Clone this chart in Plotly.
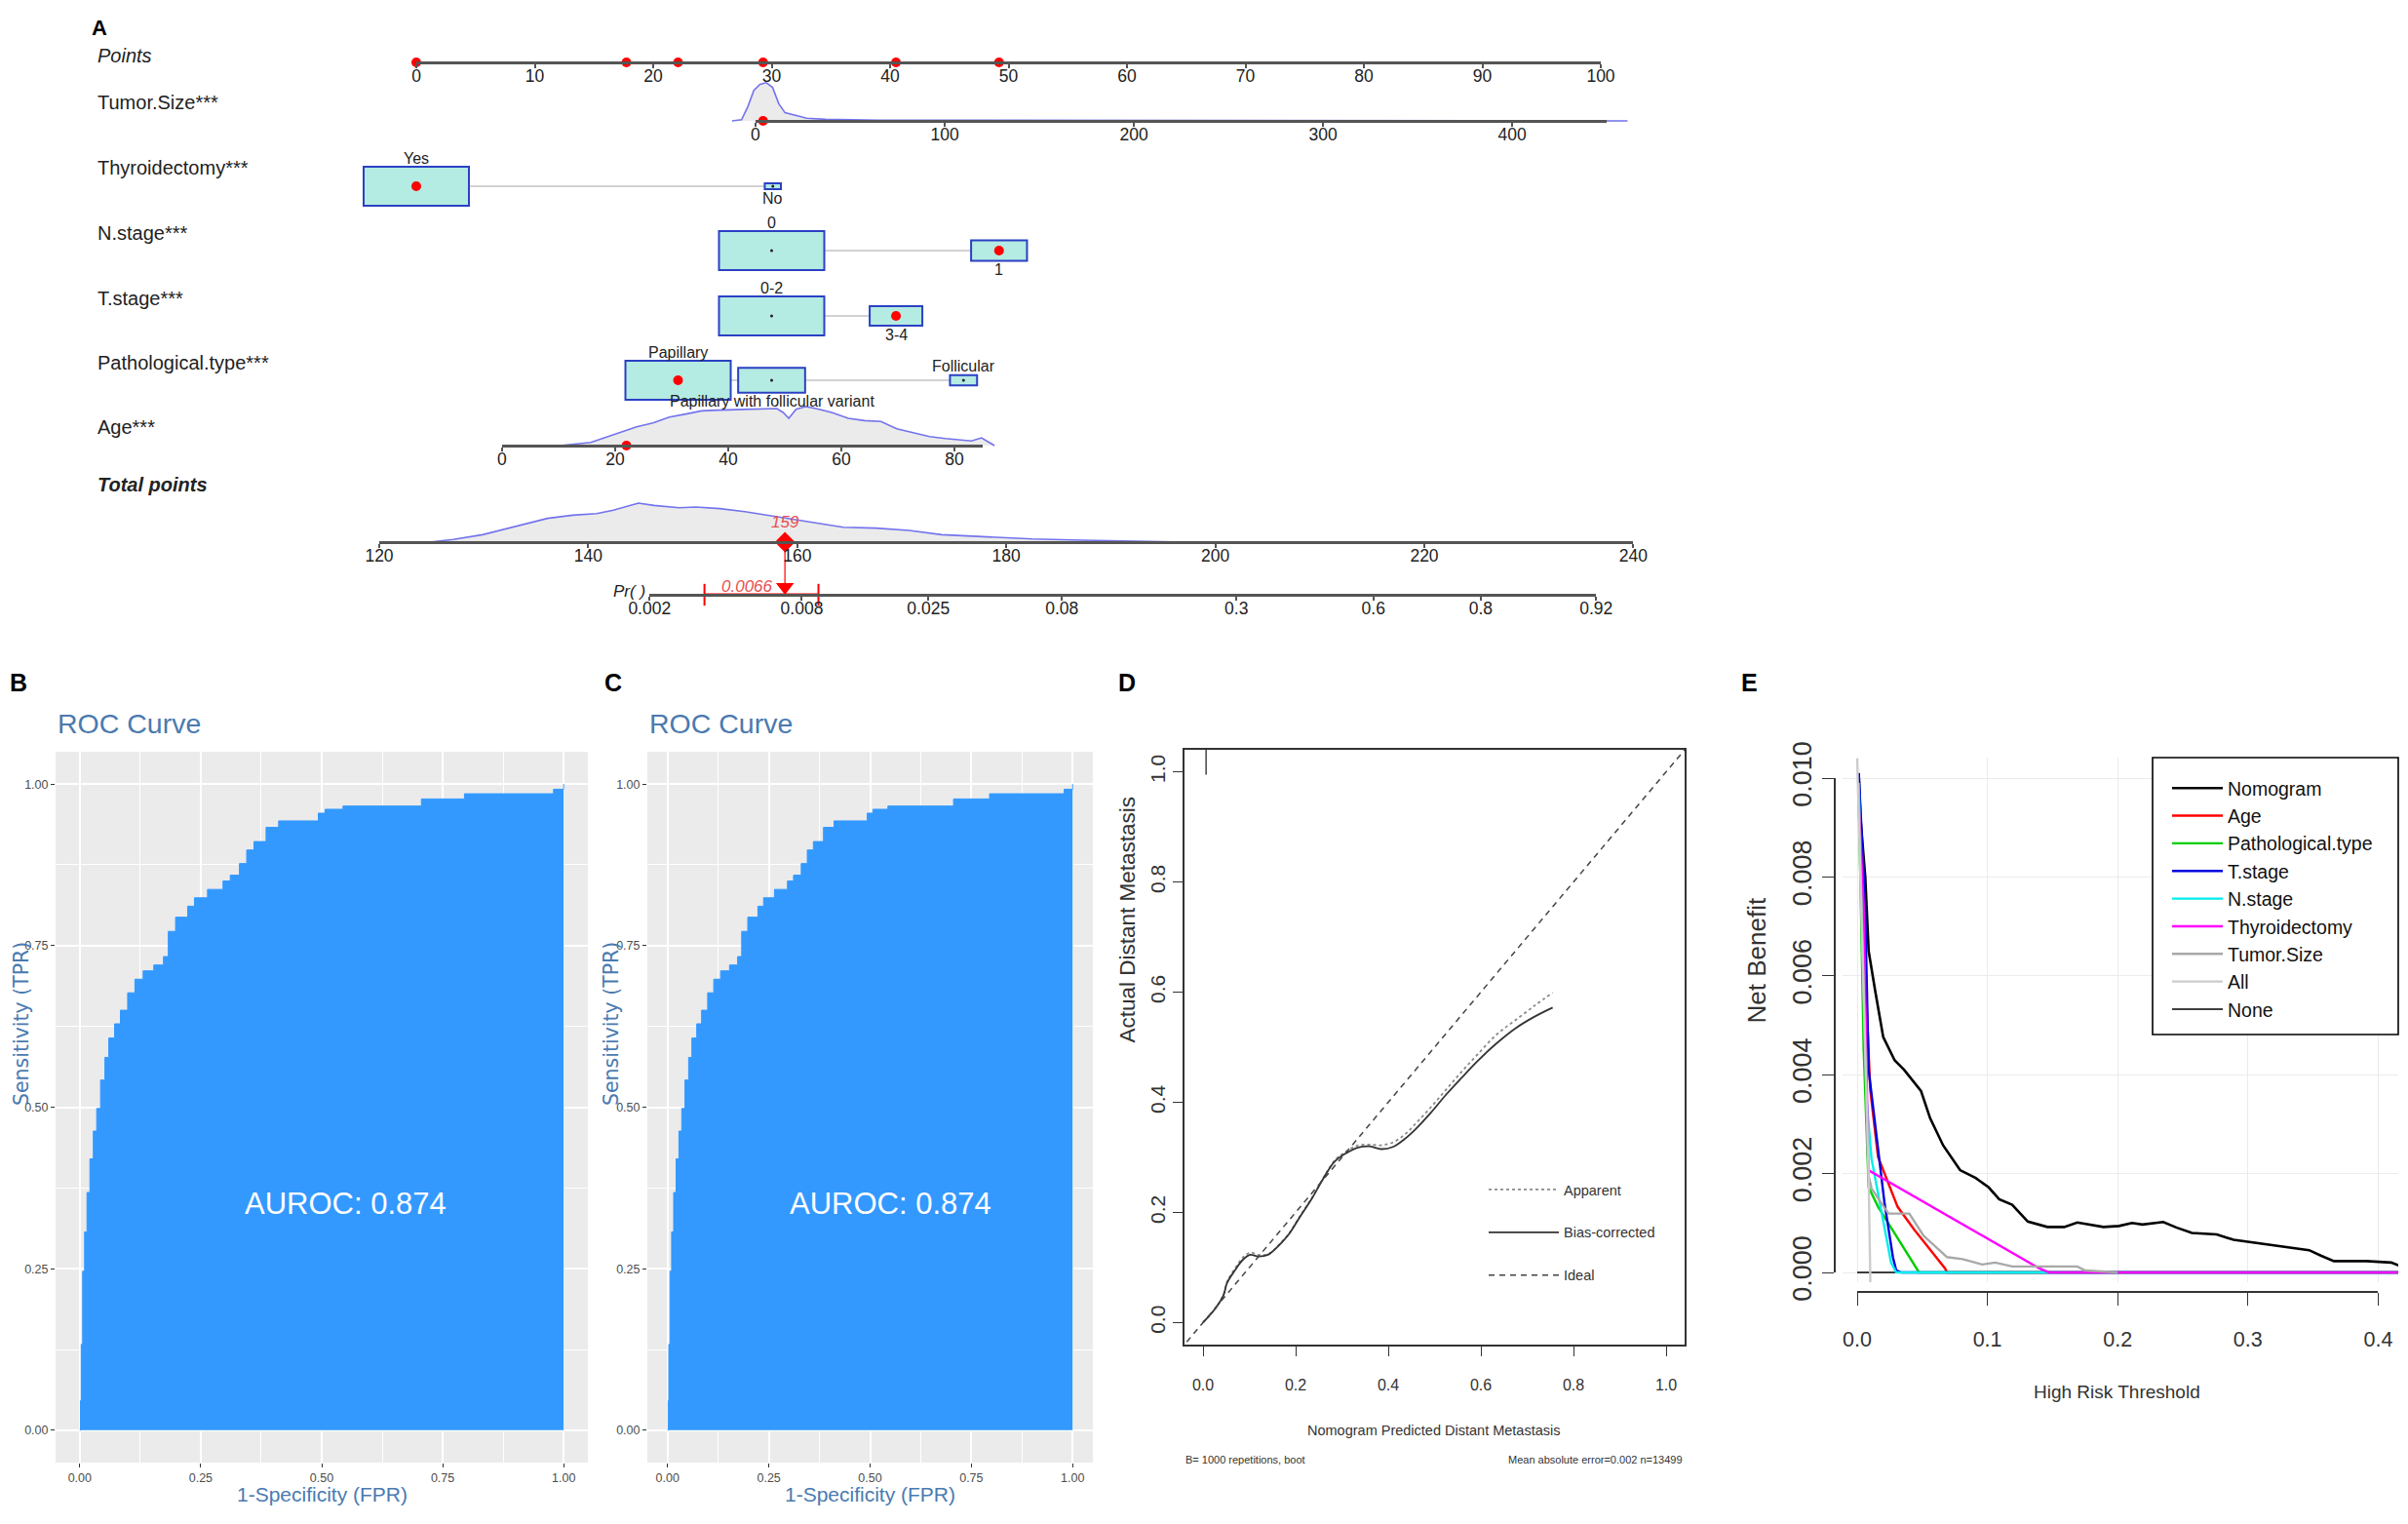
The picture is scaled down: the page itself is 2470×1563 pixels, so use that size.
import numpy as np
import plotly.graph_objects as go

W, H = 2470, 1563
OFF = 8                      # page margin around the figure
FW, FH = W - 2 * OFF, H - 2 * OFF
SANS = "Liberation Sans, Arial, sans-serif"
WIDE = "DejaVu Sans, Verdana, sans-serif"

# ---------------- A: nomogram data ----------------
points_ticks = list(range(0, 101, 10))

# continuous predictors: points = a + b * value
tumor_coef = (28.64, 0.1597)
age_coef = (7.24, 0.4774)
tumor_ticks = [0, 100, 200, 300, 400]
tumor_span = (0, 450)
age_ticks = [0, 20, 40, 60, 80]
age_span = (0, 85)

# kernel densities (relative height, peak = 1)
tumor_dens_x = [-12.4, -7.4, -4.1, -0.9, 2.4, 5.7, 9.0, 12.3, 15.6, 20.5, 27.1, 37.0, 53.4, 64.9, 461]
tumor_dens_y = [0, 0.03, 0.36, 0.78, 0.94, 0.98, 0.86, 0.44, 0.21, 0.15, 0.07, 0.04, 0.03, 0.02, 0]
age_dens_x = [10.2, 15.7, 18.1, 20.4, 23.8, 26.7, 29.6, 32.5, 35.3, 38.2, 41.1, 44.0, 46.8, 48.6,
              49.7, 50.7, 52.0, 53.7, 55.5, 58.3, 61.2, 64.1, 67.0, 69.8, 72.7, 75.6, 78.4, 81.3,
              83.0, 84.8, 85.9, 87.1]
age_dens_y = [0, 0.08, 0.2, 0.31, 0.48, 0.58, 0.73, 0.81, 0.89, 0.91, 0.92, 0.93, 0.93, 0.95,
              0.85, 0.7, 0.93, 1.0, 0.95, 0.85, 0.7, 0.64, 0.62, 0.43, 0.33, 0.23, 0.18, 0.14,
              0.12, 0.2, 0.1, 0]

# categorical predictors
thyroid_levels = ['Yes', 'No']
thyroid_points = [0.0, 30.1]
thyroid_share = [0.977, 0.023]
nstage_levels = ['0', '1']
nstage_points = [30.0, 49.2]
nstage_share = [0.78, 0.22]
tstage_levels = ['0-2', '3-4']
tstage_points = [30.0, 40.5]
tstage_share = [0.80, 0.20]
path_levels = ['Papillary', 'Papillary with follicular variant', 'Follicular']
path_points = [22.1, 30.0, 46.2]
path_share = [0.68, 0.275, 0.045]

# the example patient
pat_tumor = 4
pat_age = 22
pat_thyroid = 'Yes'
pat_nstage = '1'
pat_tstage = '3-4'
pat_path = 'Papillary'

total_ticks = list(range(120, 241, 20))
total_dens_x = [124.8, 127.1, 129.9, 133.0, 136.1, 138.5, 140.8, 142.4, 144.8, 146.3, 148.7, 150.3,
                152.6, 155.0, 158.1, 161.3, 164.4, 167.5, 170.7, 173.8, 177.0, 180.1, 182.5,
                187.2, 195.0, 197.4]
total_dens_y = [0, 0.07, 0.19, 0.4, 0.61, 0.69, 0.73, 0.82, 1.0, 0.94, 0.88, 0.9, 0.86, 0.78,
                0.65, 0.5, 0.38, 0.36, 0.3, 0.19, 0.15, 0.11, 0.08, 0.05, 0.02, 0]

lp_coef = (-20.15, 0.09555)     # logit(Pr) = a + b * total points
pr_ticks = [0.002, 0.008, 0.025, 0.08, 0.3, 0.6, 0.8, 0.92]
pr_labels = ['0.002', '0.008', '0.025', '0.08', '0.3', '0.6', '0.8', '0.92']
pred_label = '0.0066'
pred_ci = (0.0033, 0.0093)

# ---------------- B/C: ROC ----------------
roc_fpr = [0.0, 0.0015, 0.003, 0.006, 0.010, 0.015, 0.021, 0.028, 0.035, 0.043, 0.052, 0.060,
           0.072, 0.084, 0.099, 0.114, 0.131, 0.153, 0.173, 0.183, 0.198, 0.223, 0.237, 0.264,
           0.296, 0.311, 0.330, 0.345, 0.360, 0.385, 0.411, 0.493, 0.507, 0.544, 0.706, 0.795,
           0.979, 1.0]
roc_tpr = [0.0, 0.046, 0.133, 0.246, 0.307, 0.368, 0.42, 0.463, 0.498, 0.542, 0.577, 0.607,
           0.629, 0.65, 0.677, 0.698, 0.711, 0.72, 0.733, 0.772, 0.794, 0.811, 0.824, 0.837,
           0.85, 0.859, 0.877, 0.898, 0.911, 0.933, 0.943, 0.955, 0.961, 0.966, 0.977, 0.985,
           0.992, 1.0]
auroc = 0.874

# ---------------- D: calibration ----------------
cal_pred = [0.0, 0.027, 0.044, 0.052, 0.069, 0.086, 0.102, 0.119, 0.14, 0.16, 0.185, 0.21, 0.235,
            0.26, 0.285, 0.31, 0.335, 0.36, 0.385, 0.41, 0.435, 0.46, 0.493, 0.526, 0.559, 0.593,
            0.634, 0.676, 0.717, 0.755]
cal_bias = [0.0, 0.026, 0.049, 0.072, 0.095, 0.114, 0.123, 0.12, 0.123, 0.137, 0.16, 0.193, 0.225,
            0.262, 0.293, 0.308, 0.318, 0.32, 0.315, 0.319, 0.333, 0.352, 0.382, 0.415, 0.445,
            0.475, 0.507, 0.535, 0.556, 0.572]
cal_apparent = [0.0, 0.026, 0.05, 0.074, 0.098, 0.118, 0.127, 0.123, 0.124, 0.138, 0.161, 0.194,
                0.226, 0.263, 0.295, 0.311, 0.322, 0.323, 0.322, 0.327, 0.341, 0.362, 0.392,
                0.424, 0.456, 0.487, 0.523, 0.55, 0.576, 0.599]
ideal_line = [-0.05, 1.05]
pred_hist_x = [0.0066]
pred_hist_h = [0.045]

# ---------------- E: decision curves ----------------
nomo_x = [0.0012, 0.0025, 0.0062, 0.0088, 0.0138, 0.02, 0.0288, 0.036, 0.049, 0.056, 0.066, 0.079,
          0.091, 0.101, 0.109, 0.119, 0.131, 0.146, 0.159, 0.169, 0.189, 0.201, 0.211, 0.219,
          0.235, 0.245, 0.257, 0.276, 0.289, 0.308, 0.328, 0.347, 0.356, 0.366, 0.391, 0.41, 0.416]
nomo_y = [0.0101, 0.0092, 0.0080, 0.0065, 0.0057, 0.00476, 0.00429, 0.0041, 0.00367, 0.00312,
          0.00257, 0.00207, 0.00191, 0.00172, 0.00148, 0.00137, 0.00103, 0.00092, 0.00092,
          0.00101, 0.00092, 0.00094, 0.001, 0.00097, 0.00102, 0.00091, 0.0008, 0.00077, 0.00066,
          0.00059, 0.00051, 0.00045, 0.00034, 0.00023, 0.00023, 0.0002, 0.00014]
age_x = [0.0012, 0.006, 0.01, 0.016, 0.024, 0.031, 0.044, 0.056, 0.0675, 0.069, 0.416]
age_y = [0.0098, 0.0062, 0.0037, 0.00234, 0.0018, 0.00133, 0.00086, 0.00047, 0.00008, 0.0, 0.0]
path_x = [0.0012, 0.005, 0.0088, 0.016, 0.029, 0.039, 0.0475, 0.416]
path_y = [0.0097, 0.0045, 0.00172, 0.00133, 0.00078, 0.00035, 0.0, 0.0]
tst_x = [0.0012, 0.006, 0.0088, 0.0138, 0.021, 0.0275, 0.03, 0.034, 0.416]
tst_y = [0.0101, 0.0075, 0.0041, 0.003, 0.0014, 0.0003, 0.00004, 0.0, 0.0]
nst_x = [0.0012, 0.004, 0.0075, 0.011, 0.019, 0.026, 0.03, 0.416]
nst_y = [0.0099, 0.0068, 0.0034, 0.0023, 0.0012, 0.0002, 0.0, 0.0]
thy_x = [0.0012, 0.005, 0.0085, 0.14, 0.1475, 0.416]
thy_y = [0.0095, 0.0074, 0.00207, 0.00008, 0.0, 0.0]
tum_x = [0.0012, 0.0088, 0.011, 0.024, 0.04, 0.051, 0.059, 0.069, 0.081, 0.096, 0.106, 0.119,
         0.169, 0.175, 0.2]
tum_y = [0.0096, 0.00195, 0.0017, 0.00119, 0.00119, 0.00074, 0.00055, 0.00031, 0.00027, 0.00016,
         0.0002, 0.00012, 0.00012, 0.00004, 0.0]
all_x = [0.0, 0.0088, 0.0100, 0.0102]
all_y = [0.0104, 0.0019, 0.0, -0.0008]
none_x = [0.0, 0.416]
none_y = [0.0, 0.0]
dca_xticks = [0, 0.1, 0.2, 0.3, 0.4]
dca_yticks = [0, 0.002, 0.004, 0.006, 0.008, 0.010]


# ---------------- layout helpers (page pixels -> paper) ----------------
PTS_X0, PTS_DX = 427, 12.15      # pixel of 0 points, pixels per point
TOT_X0, TOT_DX = 389, 10.72      # pixel of 120 total points, pixels per total point
DENS_H = 40
BOX_W, BOX_H = 108, 40

row_y = dict(points=64, tumor=124, thyroid=191, nstage=257, tstage=324, path=390,
             age=457, total=556, pr=610)


def xp(px):
    return min(1.0, max(0.0, (px - OFF) / FW))


def ypos(py):
    return min(1.0, max(0.0, 1 - (py - OFF) / FH))


def pts_px(p):
    return PTS_X0 + PTS_DX * p


def tot_px(t):
    return TOT_X0 + TOT_DX * (t - 120)


def logit(p):
    return np.log(p / (1 - p))


def tot_of_p(p):
    return (logit(p) - lp_coef[0]) / lp_coef[1]


def tumor_to_pts(v):
    return tumor_coef[0] + tumor_coef[1] * v


def age_to_pts(v):
    return age_coef[0] + age_coef[1] * v


fig = go.Figure()
shapes = []
annots = []

# nomogram axis style
nomo_axis = dict(anchor='free', showline=True, linecolor='#555', linewidth=2.5, ticks='outside',
                 ticklen=4, tickwidth=1.5, tickcolor='#555', showgrid=False, zeroline=False,
                 ticklabelstandoff=-7,
                 tickfont=dict(family=SANS, size=17.5, color='#222'), fixedrange=True)

layout_axes = {}
layout_axes['yaxis'] = dict(domain=[0, 1], range=[FH + OFF, OFF], visible=False)
layout_axes['xaxis'] = dict(nomo_axis, domain=[xp(pts_px(0)), xp(pts_px(100))], range=[0, 100],
                            tickvals=points_ticks, position=ypos(row_y['points']))
layout_axes['xaxis2'] = dict(domain=[0, 1], range=[(OFF - PTS_X0) / PTS_DX, (OFF + FW - PTS_X0) / PTS_DX],
                             visible=False)
layout_axes['xaxis3'] = dict(nomo_axis, domain=[xp(pts_px(tumor_to_pts(tumor_span[0]))),
                                                xp(pts_px(tumor_to_pts(tumor_span[1])))],
                             range=list(tumor_span), tickvals=tumor_ticks,
                             position=ypos(row_y['tumor']))
layout_axes['xaxis4'] = dict(nomo_axis, domain=[xp(pts_px(age_to_pts(age_span[0]))),
                                                xp(pts_px(age_to_pts(age_span[1])))],
                             range=list(age_span), tickvals=age_ticks, position=ypos(row_y['age']))
layout_axes['xaxis5'] = dict(nomo_axis, domain=[xp(tot_px(120)), xp(tot_px(240))], range=[120, 240],
                             tickvals=total_ticks, position=ypos(row_y['total']))
pr_lo, pr_hi = tot_of_p(pr_ticks[0]), tot_of_p(pr_ticks[-1])
layout_axes['xaxis6'] = dict(nomo_axis, domain=[xp(tot_px(pr_lo)), xp(tot_px(pr_hi))],
                             range=[pr_lo, pr_hi], tickvals=[tot_of_p(p) for p in pr_ticks],
                             ticktext=pr_labels, position=ypos(row_y['pr']))


def density(xs, ys, axis, base, conv=None):
    xx = [conv(v) for v in xs] if conv else xs
    yy = [base - DENS_H * d for d in ys]
    fig.add_trace(go.Scatter(x=xx, y=yy, xaxis=axis, yaxis='y', mode='lines', fill='toself',
                             fillcolor='#ebebeb', line=dict(color='#7373ee', width=1.6),
                             hoverinfo='skip', showlegend=False))


density(tumor_dens_x, tumor_dens_y, 'x2', row_y['tumor'], tumor_to_pts)
density(age_dens_x, age_dens_y, 'x2', row_y['age'], age_to_pts)
density(total_dens_x, total_dens_y, 'x5', row_y['total'])

# categorical rows: connector, boxes, labels
cat_rows = [
    ('thyroid', thyroid_levels, thyroid_points, thyroid_share, pat_thyroid),
    ('nstage', nstage_levels, nstage_points, nstage_share, pat_nstage),
    ('tstage', tstage_levels, tstage_points, tstage_share, pat_tstage),
    ('path', path_levels, path_points, path_share, pat_path),
]
pat_points = {}
for key, levels, pts, share, chosen in cat_rows:
    yc = row_y[key]
    shapes.append(dict(type='line', xref='x2', yref='y', x0=min(pts), x1=max(pts), y0=yc, y1=yc,
                       line=dict(color='#d2d2d2', width=2), layer='below'))
    smax = max(share)
    for i, (lv, p, s) in enumerate(zip(levels, pts, share)):
        k = np.sqrt(s / smax)
        w, h = BOX_W * k, BOX_H * k
        shapes.append(dict(type='rect', xref='x2', yref='y', xsizemode='pixel', ysizemode='pixel',
                           xanchor=p, yanchor=yc, x0=-w / 2, x1=w / 2, y0=-h / 2, y1=h / 2,
                           fillcolor='#b4ebe2', line=dict(color='#2b41c4', width=2),
                           layer='below'))
        above = (i % 2 == 0)
        annots.append(dict(xref='x2', yref='y', x=p, y=yc, text=lv, showarrow=False,
                           yshift=(h / 2 + 9) * (1 if above else -1),
                           font=dict(family=SANS, size=16, color='#222')))
    others = [p for lv, p in zip(levels, pts) if lv != chosen]
    fig.add_trace(go.Scatter(x=others, y=[yc] * len(others), xaxis='x2', yaxis='y', mode='markers',
                             marker=dict(color='#222', size=3), hoverinfo='skip', showlegend=False))
    pat_points[key] = pts[levels.index(chosen)]
    fig.add_trace(go.Scatter(x=[pat_points[key]], y=[yc], xaxis='x2', yaxis='y', mode='markers',
                             marker=dict(color='red', size=10), hoverinfo='skip', showlegend=False))

pat_points['tumor'] = tumor_to_pts(pat_tumor)
pat_points['age'] = age_to_pts(pat_age)
pat_total = sum(pat_points.values())

red_dot = dict(color='red', size=10)
fig.add_trace(go.Scatter(x=list(pat_points.values()), y=[row_y['points']] * len(pat_points),
                         xaxis='x', yaxis='y', mode='markers', marker=red_dot, cliponaxis=False,
                         hoverinfo='skip', showlegend=False))
fig.add_trace(go.Scatter(x=[pat_tumor], y=[row_y['tumor']], xaxis='x3', yaxis='y', mode='markers',
                         marker=red_dot, cliponaxis=False, hoverinfo='skip', showlegend=False))
fig.add_trace(go.Scatter(x=[pat_age], y=[row_y['age']], xaxis='x4', yaxis='y', mode='markers',
                         marker=red_dot, cliponaxis=False, hoverinfo='skip', showlegend=False))

# total points marker, arrow to probability, confidence interval
fig.add_trace(go.Scatter(x=[pat_total, pat_total], y=[row_y['total'], row_y['pr'] - 8],
                         xaxis='x5', yaxis='y', mode='lines', line=dict(color='#ff3030', width=1.5),
                         hoverinfo='skip', showlegend=False))
fig.add_trace(go.Scatter(x=[pat_total], y=[row_y['pr'] - 8], xaxis='x5', yaxis='y', mode='markers',
                         marker=dict(symbol='triangle-down', color='red', size=16),
                         cliponaxis=False, hoverinfo='skip', showlegend=False))
fig.add_trace(go.Scatter(x=[pat_total], y=[row_y['total']], xaxis='x5', yaxis='y',
                         mode='markers+text', text=[f'{pat_total:.0f}'], textposition='top center',
                         textfont=dict(family=SANS, size=17, color='#e85050', style='italic'),
                         marker=dict(symbol='diamond', color='red', size=16), cliponaxis=False,
                         hoverinfo='skip', showlegend=False))
ci_tot = [tot_of_p(p) for p in pred_ci]
fig.add_trace(go.Scatter(x=ci_tot, y=[row_y['pr']] * 2, xaxis='x6', yaxis='y', mode='lines+markers',
                         line=dict(color='red', width=3),
                         marker=dict(symbol='line-ns', size=16, line=dict(color='red', width=2)),
                         cliponaxis=False, hoverinfo='skip', showlegend=False))
annots.append(dict(xref='x5', yref='y', x=pat_total, y=row_y['pr'] - 9, xanchor='right', xshift=-10,
                   text=pred_label, showarrow=False,
                   font=dict(family=SANS, size=17, color='#e85050', style='italic')))
annots.append(dict(xref='x6', yref='y', x=pr_lo, y=row_y['pr'] - 4, xanchor='right', xshift=-2,
                   text='Pr( )', showarrow=False,
                   font=dict(family=SANS, size=17, color='#222', style='italic')))

row_labels = [('Points', 57, 'normal', 'italic'), ('Tumor.Size***', 105, 'normal', 'normal'),
              ('Thyroidectomy***', 172, 'normal', 'normal'), ('N.stage***', 239, 'normal', 'normal'),
              ('T.stage***', 306, 'normal', 'normal'),
              ('Pathological.type***', 372, 'normal', 'normal'),
              ('Age***', 438, 'normal', 'normal'), ('Total points', 497, 'bold', 'italic')]
for txt, yy, wt, st in row_labels:
    annots.append(dict(xref='paper', yref='paper', x=xp(98), y=ypos(yy), xanchor='left',
                       yanchor='middle', text=txt, showarrow=False,
                       font=dict(family=SANS, size=20, color='#222', weight=wt, style=st)))

# ---------------- B / C : ROC ----------------
ROC_BLUE = '#3399ff'
TITLE_BLUE = '#4a7ab0'


def roc_panel(n, x0, x1, letter, lx, ylab_x):
    xa, ya = f'x{n}', f'y{n}'
    fig.add_trace(go.Scatter(x=roc_fpr, y=roc_tpr, xaxis=xa, yaxis=ya, mode='lines',
                             line=dict(color=ROC_BLUE, width=1, shape='hv'), fill='tozeroy',
                             fillcolor=ROC_BLUE, hoverinfo='skip', showlegend=False))
    ax = dict(range=[-0.05, 1.05], tickvals=[0, 0.25, 0.5, 0.75, 1.0], tickformat='.2f',
              showgrid=True, gridcolor='white', gridwidth=2.2, zeroline=False, showline=False,
              ticks='outside', ticklen=4, tickcolor='#333',
              tickfont=dict(family=SANS, size=12.5, color='#4d4d4d'),
              minor=dict(tickvals=[0.125, 0.375, 0.625, 0.875], showgrid=True, gridcolor='white',
                         gridwidth=1, ticks=''), fixedrange=True)
    layout_axes[f'xaxis{n}'] = dict(ax, domain=[xp(x0), xp(x1)], anchor=ya)
    layout_axes[f'yaxis{n}'] = dict(ax, domain=[ypos(1500), ypos(771)], anchor=xa)
    shapes.append(dict(type='rect', xref=f'{xa} domain', yref=f'{ya} domain', x0=0, x1=1, y0=0,
                       y1=1, fillcolor='#ebebeb', line=dict(width=0), layer='below'))
    annots.append(dict(xref='paper', yref='paper', x=xp(x0), y=ypos(742), xanchor='left',
                       text='ROC Curve', showarrow=False,
                       font=dict(family=SANS, size=28.5, color=TITLE_BLUE)))
    annots.append(dict(xref=xa, yref=ya, x=0.55, y=0.35, text=f'AUROC: {auroc}', showarrow=False,
                       font=dict(family=SANS, size=31, color='white')))
    annots.append(dict(xref='paper', yref='paper', x=xp((x0 + x1) / 2), y=ypos(1546),
                       xanchor='center', text='1-Specificity (FPR)', showarrow=False,
                       font=dict(family=SANS, size=21, color=TITLE_BLUE)))
    annots.append(dict(xref='paper', yref='paper', x=xp(ylab_x), y=ypos(1135), textangle=-90,
                       xanchor='center', borderpad=0, text='Sensitivity (TPR)', showarrow=False,
                       font=dict(family=WIDE, size=20.5, color=TITLE_BLUE)))
    annots.append(dict(xref='paper', yref='paper', x=xp(lx), y=ypos(700), xanchor='left',
                       text=letter, showarrow=False,
                       font=dict(family=SANS, size=25, color='black', weight='bold')))


roc_panel(7, 57, 603, 'B', 2, 22)
roc_panel(8, 664, 1121, 'C', 618, 627)

# ---------------- D : calibration ----------------
for i, (name, ys, dash, col) in enumerate([('Apparent', cal_apparent, 'dot', '#8a8a8a'),
                                           ('Bias-corrected', cal_bias, 'solid', '#333333')]):
    fig.add_trace(go.Scatter(x=cal_pred, y=ys, xaxis='x9', yaxis='y9', mode='lines', name=name,
                             line=dict(color=col, width=1.8, dash=dash, shape='spline'),
                             legend='legend2', legendgroup=name, hoverinfo='skip'))
fig.add_trace(go.Scatter(x=ideal_line, y=ideal_line, xaxis='x9', yaxis='y9', mode='lines',
                         name='Ideal', line=dict(color='#444', width=1.5, dash='6px,5px'),
                         legend='legend2', legendgroup='Ideal', hoverinfo='skip'))
for hx, hh in zip(pred_hist_x, pred_hist_h):
    fig.add_trace(go.Scatter(x=[hx, hx], y=[1.04, 1.04 - hh], xaxis='x9', yaxis='y9', mode='lines',
                             line=dict(color='#444', width=1.5), hoverinfo='skip',
                             showlegend=False))

d_ax = dict(range=[-0.04, 1.04], tickvals=[0, 0.2, 0.4, 0.6, 0.8, 1.0], tickformat='.1f',
            showgrid=False, zeroline=False, showline=True, mirror=True, linecolor='#333',
            linewidth=1.6, ticks='outside', ticklen=10, tickcolor='#333', fixedrange=True)
layout_axes['xaxis9'] = dict(d_ax, domain=[xp(1215), xp(1728)], anchor='y9', ticklabelstandoff=16,
                             tickfont=dict(family=SANS, size=16, color='#333'))
layout_axes['yaxis9'] = dict(d_ax, domain=[ypos(1379), ypos(769)], anchor='x9', tickangle=-90,
                             tickfont=dict(family=SANS, size=21, color='#333'))
annots += [
    dict(xref='paper', yref='paper', x=xp(1471), y=ypos(1477), xanchor='center',
         text='Nomogram Predicted Distant Metastasis', showarrow=False,
         font=dict(family=SANS, size=14.5, color='#333')),
    dict(xref='paper', yref='paper', x=xp(1156), y=ypos(1072), textangle=-90, xanchor='center',
         text='Actual Distant Metastasis', showarrow=False,
         font=dict(family=SANS, size=22.5, color='#333')),
    dict(xref='paper', yref='paper', x=xp(1214), y=ypos(1505), xanchor='left',
         text='B= 1000 repetitions, boot', showarrow=False, font=dict(family=SANS, size=11, color='#333')),
    dict(xref='paper', yref='paper', x=xp(1728), y=ypos(1505), xanchor='right',
         text='Mean absolute error=0.002 n=13499', showarrow=False,
         font=dict(family=SANS, size=11, color='#333')),
    dict(xref='paper', yref='paper', x=xp(1145), y=ypos(700), xanchor='left', text='D', showarrow=False,
         font=dict(family=SANS, size=25, color='black', weight='bold')),
]

# ---------------- E : decision curves ----------------
E_X = (1905, 1336.0)      # pixel of threshold 0, pixels per unit threshold
E_Y = (1305, 50700.0)     # pixel of net benefit 0, pixels per unit net benefit
E_LEFT, E_RIGHT, E_TOP, E_BOTTOM = 1890, 2460, 777, 1315


def ex(v):
    return E_X[0] + E_X[1] * v


def ey(v):
    return E_Y[0] - E_Y[1] * v


dca = [('None', none_x, none_y, 'black', 1.5, 9),
       ('Nomogram', nomo_x, nomo_y, 'black', 2.6, 1),
       ('Age', age_x, age_y, '#ff0000', 2.4, 2),
       ('Pathological.type', path_x, path_y, '#00cd00', 2.4, 3),
       ('T.stage', tst_x, tst_y, '#0000e0', 2.4, 4),
       ('N.stage', nst_x, nst_y, '#00eeee', 2.4, 5),
       ('Thyroidectomy', thy_x, thy_y, '#ff00ff', 2.4, 6),
       ('Tumor.Size', tum_x, tum_y, '#a8a8a8', 2.4, 7),
       ('All', all_x, all_y, '#cccccc', 2.4, 8)]
for name, xs, ys, col, lw, rank in dca:
    fig.add_trace(go.Scatter(x=xs, y=ys, xaxis='x10', yaxis='y10', mode='lines', name=name,
                             line=dict(color=col, width=lw), legendrank=rank, legend='legend',
                             hoverinfo='skip'))
# empty trace so the R-style axis pair below gets drawn
fig.add_trace(go.Scatter(x=[], y=[], xaxis='x11', yaxis='y11', mode='lines', showlegend=False,
                         hoverinfo='skip'))

e_xr = [(E_LEFT - E_X[0]) / E_X[1], (E_RIGHT - E_X[0]) / E_X[1]]
e_yr = [(E_Y[0] - E_BOTTOM) / E_Y[1], (E_Y[0] - E_TOP) / E_Y[1]]
layout_axes['xaxis10'] = dict(domain=[xp(E_LEFT), xp(E_RIGHT)], range=e_xr, anchor='y10',
                              tickvals=dca_xticks, showticklabels=False, ticks='', showline=False,
                              showgrid=True, gridcolor='#ebebeb', zeroline=False, fixedrange=True)
layout_axes['yaxis10'] = dict(domain=[ypos(E_BOTTOM), ypos(E_TOP)], range=e_yr, anchor='x10',
                              tickvals=dca_yticks, showticklabels=False, ticks='', showline=False,
                              showgrid=True, gridcolor='#ebebeb', zeroline=False, fixedrange=True)
# R style axes that only span the tick range, offset from the plot region
layout_axes['xaxis11'] = dict(domain=[xp(ex(dca_xticks[0])), xp(ex(dca_xticks[-1]))],
                              range=[dca_xticks[0], dca_xticks[-1]], anchor='free',
                              position=ypos(1325), tickvals=dca_xticks, tickformat='.1f',
                              showline=True, linecolor='#333', linewidth=1.6, ticks='outside',
                              ticklen=13, tickcolor='#333', showgrid=False, zeroline=False,
                              ticklabelstandoff=16,
                              tickfont=dict(family=SANS, size=21.5, color='#333'), fixedrange=True)
layout_axes['yaxis11'] = dict(domain=[ypos(ey(dca_yticks[0])), ypos(ey(dca_yticks[-1]))],
                              range=[dca_yticks[0], dca_yticks[-1]], anchor='free',
                              position=xp(1882), tickvals=dca_yticks, tickformat='.3f',
                              tickangle=-90, showline=True, linecolor='#333', linewidth=1.6,
                              ticks='outside', ticklen=12, tickcolor='#333', showgrid=False,
                              zeroline=False, tickfont=dict(family=SANS, size=27, color='#333'),
                              fixedrange=True)
# legend frame
shapes.append(dict(type='rect', xref='paper', yref='paper', x0=xp(2208), x1=xp(2460),
                   y0=ypos(1061), y1=ypos(777), fillcolor='white',
                   line=dict(color='black', width=1.6), layer='above'))
annots += [
    dict(xref='paper', yref='paper', x=xp(2171), y=ypos(1440), xanchor='center',
         text='High Risk Threshold', showarrow=False, font=dict(family=SANS, size=19, color='#333')),
    dict(xref='paper', yref='paper', x=xp(1801), y=ypos(1052), textangle=-90, xanchor='center',
         text='Net Benefit', showarrow=False, font=dict(family=SANS, size=26, color='#333')),
    dict(xref='paper', yref='paper', x=xp(1784), y=ypos(700), xanchor='left', text='E', showarrow=False,
         font=dict(family=SANS, size=25, color='black', weight='bold')),
    dict(xref='paper', yref='paper', x=xp(92), y=ypos(14), xanchor='left', text='A', showarrow=False,
         font=dict(family=SANS, size=22, color='black', weight='bold')),
]

fig.update_layout(
    template='none',
    width=FW, height=FH, margin=dict(l=0, r=0, t=0, b=0, autoexpand=False),
    paper_bgcolor='white', plot_bgcolor='rgba(0,0,0,0)',
    font=dict(family=SANS, color='#333'),
    shapes=shapes, annotations=annots,
    legend=dict(x=xp(2223), y=ypos(789), xanchor='left', yanchor='top', bgcolor='rgba(0,0,0,0)',
                borderwidth=0, itemwidth=52, traceorder='normal',
                font=dict(family=SANS, size=19.5, color='#111')),
    legend2=dict(x=xp(1522), y=ypos(1204), xanchor='left', yanchor='top',
                 bgcolor='rgba(0,0,0,0)', itemwidth=72, traceorder='grouped', tracegroupgap=22,
                 font=dict(family=SANS, size=14.5, color='#333')),
    **layout_axes,
)

fig.write_html("out.html")
